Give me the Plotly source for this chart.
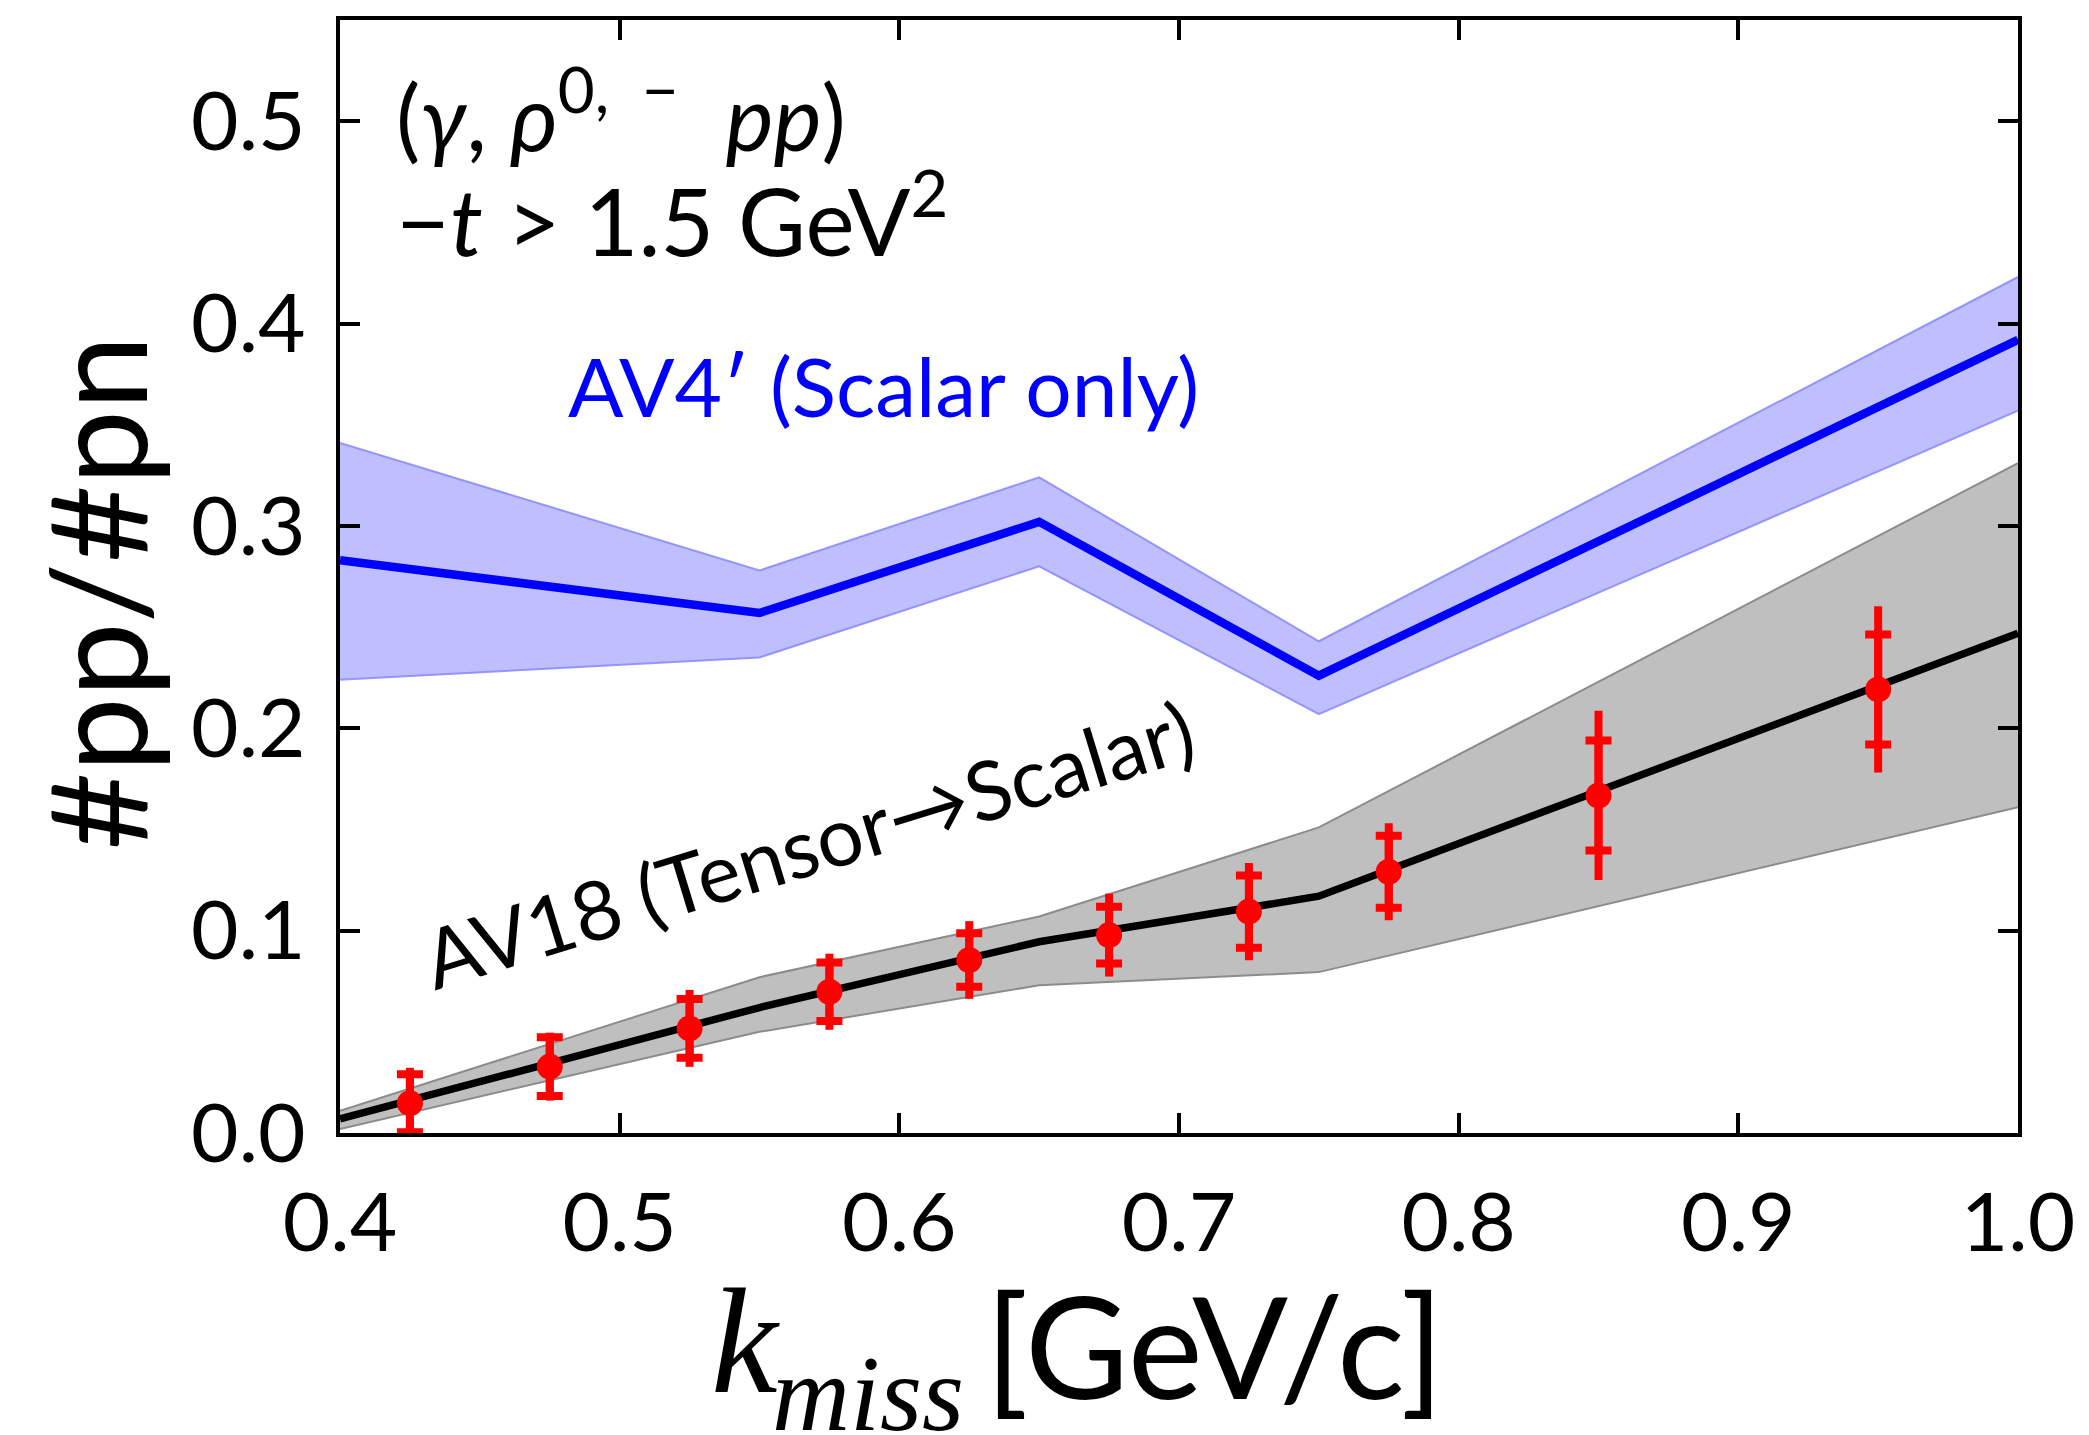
import plotly.graph_objects as go

# ---- data ----
kmiss = [0.425, 0.475, 0.525, 0.575, 0.625, 0.675, 0.725, 0.775, 0.85, 0.95]
ratio = [0.0147, 0.0328, 0.0517, 0.0698, 0.0855, 0.0978, 0.1094, 0.1291, 0.1668, 0.2192]
stat_err = [0.0143, 0.0145, 0.0145, 0.0145, 0.0132, 0.0140, 0.0178, 0.0178, 0.0272, 0.0272]
tot_err = [0.0175, 0.0168, 0.0190, 0.0188, 0.0192, 0.0205, 0.0240, 0.0240, 0.0418, 0.0411]

theory_k = [0.40, 0.55, 0.65, 0.75, 1.00]
av4_mid = [0.283, 0.257, 0.302, 0.226, 0.392]
av4_lo = [0.224, 0.235, 0.280, 0.207, 0.357]
av4_hi = [0.341, 0.278, 0.324, 0.243, 0.423]
av18_mid = [0.007, 0.062, 0.0945, 0.117, 0.247]
av18_lo = [0.002, 0.050, 0.073, 0.0795, 0.161]
av18_hi = [0.011, 0.077, 0.107, 0.151, 0.331]

x_ticks = [0.4, 0.5, 0.6, 0.7, 0.8, 0.9, 1.0]
x_ticklabels = ["0.4", "0.5", "0.6", "0.7", "0.8", "0.9", "1.0"]
y_ticks = [0.0, 0.1, 0.2, 0.3, 0.4, 0.5]
y_ticklabels = ["0.0", "0.1", "0.2", "0.3", "0.4", "0.5"]

# ---- geometry ----
W, H = 2089, 1435
L, R, T, B = 340, 2018, 20, 1133


def px(x):
    return (x - L) / (R - L)


def py(y):
    return (B - y) / (B - T)


SANS = "Lato"
SERIF = "Liberation Serif"

fig = go.Figure()

# AV18 band
fig.add_trace(go.Scatter(x=theory_k, y=av18_lo, mode="lines",
                         line=dict(color="rgb(140,140,140)", width=2), hoverinfo="skip"))
fig.add_trace(go.Scatter(x=theory_k, y=av18_hi, mode="lines", fill="tonexty",
                         fillcolor="rgb(191,191,191)",
                         line=dict(color="rgb(140,140,140)", width=2), hoverinfo="skip"))
# AV4' band
fig.add_trace(go.Scatter(x=theory_k, y=av4_lo, mode="lines",
                         line=dict(color="rgba(130,130,255,0.8)", width=2), hoverinfo="skip"))
fig.add_trace(go.Scatter(x=theory_k, y=av4_hi, mode="lines", fill="tonexty",
                         fillcolor="rgb(191,191,255)",
                         line=dict(color="rgba(130,130,255,0.8)", width=2), hoverinfo="skip"))
# central lines
fig.add_trace(go.Scatter(x=theory_k, y=av4_mid, mode="lines",
                         line=dict(color="rgb(0,0,255)", width=8.5)))
fig.add_trace(go.Scatter(x=theory_k, y=av18_mid, mode="lines",
                         line=dict(color="black", width=7.5)))

# data: total errors (no caps)
fig.add_trace(go.Scatter(x=kmiss, y=ratio, mode="markers",
                         marker=dict(size=2, color="rgba(0,0,0,0)"),
                         error_y=dict(type="data", array=tot_err, visible=True,
                                      color="red", thickness=8, width=0)))
# data: stat errors with caps + markers
fig.add_trace(go.Scatter(x=kmiss, y=ratio, mode="markers",
                         marker=dict(size=26, color="red"),
                         error_y=dict(type="data", array=stat_err, visible=True,
                                      color="red", thickness=8, width=13)))

axis_common = dict(
    ticks="inside", ticklen=20, tickwidth=3.5, tickcolor="black",
    showline=True, linewidth=4, linecolor="black", mirror="ticks",
    showgrid=False, zeroline=False,
    tickfont=dict(family=SANS, size=82, color="black"),
)
fig.update_xaxes(range=[0.4, 1.0], tickvals=x_ticks, ticktext=x_ticklabels,
                 ticklabelstandoff=16, **axis_common)
fig.update_yaxes(range=[0.0, 0.55], tickvals=y_ticks, ticktext=y_ticklabels,
                 ticklabelstandoff=14, **axis_common)

annotations = [
    # y title
    dict(text="#pp/#pn", x=px(95), y=py(593), textangle=-90,
         font=dict(family=SANS, size=134, color="black")),
    # x title pieces
    dict(text="<i>k</i>", x=px(745), y=py(1341),
         font=dict(family=SERIF, size=150, color="black")),
    dict(text="<i>miss</i>", x=px(868), y=py(1393), height=110,
         font=dict(family=SERIF, size=108, color="black")),
    dict(text="[GeV/c]", x=px(1214), y=py(1344),
         font=dict(family=SANS, size=142, color="black")),
    # reaction labels
    dict(text="(<i>γ</i>, <i>ρ</i><sup>0,  −</sup>  <i>pp</i>)", x=px(394), y=py(110),
         xanchor="left", font=dict(family=SANS, size=91, color="black")),
    dict(text="−<i>t</i> > 1.5 GeV<sup>2</sup>", x=px(394), y=py(214),
         xanchor="left", font=dict(family=SANS, size=93, color="black")),
    # model labels
    dict(text="AV4′ (Scalar only)", x=px(883), y=py(385),
         font=dict(family=SANS, size=82, color="rgb(0,0,255)")),
    dict(text="AV18 (Tensor→Scalar)", x=px(808), y=py(843), textangle=-17,
         font=dict(family=SANS, size=82, color="black")),
]
for a in annotations:
    a.setdefault("xanchor", "center")
    a.setdefault("yanchor", "middle")
    a["xref"] = "paper"
    a["yref"] = "paper"
    a["showarrow"] = False

fig.update_layout(
    width=W, height=H,
    margin=dict(l=L, r=W - R, t=T, b=H - B),
    plot_bgcolor="white", paper_bgcolor="white",
    showlegend=False,
    annotations=annotations,
)

fig.write_html("out.html")
